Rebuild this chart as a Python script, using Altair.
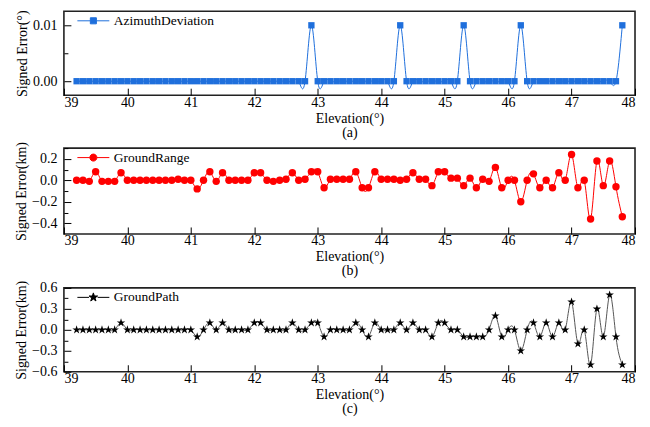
import altair as alt
import pandas as pd

FONT = "Liberation Serif"

elevation = [39.2, 39.3, 39.4, 39.5, 39.6, 39.7, 39.8, 39.9, 40.0, 40.1, 40.2, 40.3, 40.4, 40.5,
             40.6, 40.7, 40.8, 40.9, 41.0, 41.1, 41.2, 41.3, 41.4, 41.5, 41.6, 41.7, 41.8, 41.9,
             42.0, 42.1, 42.2, 42.3, 42.4, 42.5, 42.6, 42.7, 42.8, 42.9, 43.0, 43.1, 43.2, 43.3,
             43.4, 43.5, 43.6, 43.7, 43.8, 43.9, 44.0, 44.1, 44.2, 44.3, 44.4, 44.5, 44.6, 44.7,
             44.8, 44.9, 45.0, 45.1, 45.2, 45.3, 45.4, 45.5, 45.6, 45.7, 45.8, 45.9, 46.0, 46.1,
             46.2, 46.3, 46.4, 46.5, 46.6, 46.7, 46.8, 46.9, 47.0, 47.1, 47.2, 47.3, 47.4, 47.5,
             47.6, 47.7, 47.8]

azimuth_dev = [0, 0, 0, 0, 0, 0, 0, 0, 0, 0, 0, 0, 0, 0,
               0, 0, 0, 0, 0, 0, 0, 0, 0, 0, 0, 0, 0, 0,
               0, 0, 0, 0, 0, 0, 0, 0, 0, 0.01, 0, 0, 0, 0,
               0, 0, 0, 0, 0, 0, 0, 0, 0, 0.01, 0, 0, 0, 0,
               0, 0, 0, 0, 0, 0.01, 0, 0, 0, 0, 0, 0, 0, 0,
               0.01, 0, 0, 0, 0, 0, 0, 0, 0, 0, 0, 0, 0, 0,
               0, 0, 0.01]

ground_range = [0.0, 0.0, -0.01, 0.08, -0.01, -0.01, -0.01, 0.07, 0.0, 0.0, 0.0, 0.0, 0.0, 0.0,
                0.0, 0.0, 0.01, 0.0, 0.0, -0.08, 0.0, 0.08, -0.01, 0.07, 0.0, 0.0, 0.0, 0.0,
                0.07, 0.07, 0.0, -0.01, 0.0, 0.01, 0.07, 0.0, 0.01, 0.08, 0.08, -0.07, 0.01, 0.01,
                0.01, 0.01, 0.08, -0.07, -0.07, 0.08, 0.01, 0.01, 0.01, 0.0, 0.01, 0.07, 0.01, 0.01,
                -0.05, 0.08, 0.08, 0.02, 0.02, -0.05, 0.02, -0.07, 0.01, -0.01, 0.12, -0.07, 0.0, 0.0,
                -0.2, 0.0, 0.06, -0.07, 0.0, -0.07, 0.07, 0.0, 0.24, -0.07, 0.0, -0.36, 0.18, -0.05,
                0.18, -0.06, -0.34]

ground_path = [0, 0, 0, 0, 0, 0, 0, 0.1, 0, 0, 0, 0, 0, 0,
               0, 0, 0, 0, 0, -0.1, 0, 0.1, 0, 0.1, 0, 0, 0, 0,
               0.1, 0.1, 0, 0, 0, 0, 0.1, 0, 0, 0.1, 0.1, -0.1, 0, 0,
               0, 0, 0.1, 0, -0.1, 0.1, 0, 0, 0, 0.1, 0, 0.1, 0, 0,
               -0.1, 0.1, 0.1, 0, 0, -0.1, -0.1, -0.1, -0.1, 0, 0.2, -0.1, 0, 0,
               -0.3, 0, 0.1, -0.1, 0.1, -0.1, 0.1, 0, 0.4, -0.2, 0, -0.5, 0.3, -0.1,
               0.5, -0.1, -0.5]

x_ticks = [39, 39.5, 40, 40.5, 41, 41.5, 42, 42.5, 43, 43.5, 44, 44.5, 45, 45.5,
           46, 46.5, 47, 47.5, 48]

STAR = ("M0,-1L0.2245,-0.309L0.9511,-0.309L0.3633,0.118L0.5878,0.809L0,0.382"
        "L-0.5878,0.809L-0.3633,0.118L-0.9511,-0.309L-0.2245,-0.309Z")
# legend symbols: a line sample from -1 to 3 with the marker centred at x = 1
LEG_SQUARE = "M-1,0H0.62M1.38,0H3M0.62,-0.38H1.38V0.38H0.62Z"
LEG_CIRCLE = "M-1,0H0.56M1.44,0H3M1.44,0A0.44,0.44,0,1,1,0.56,0A0.44,0.44,0,1,1,1.44,0Z"
LEG_STAR = ("M-1,0H0.46M1.54,0H3M1,-0.56L1.1258,-0.173L1.5326,-0.173L1.2034,0.066"
            "L1.3292,0.453L1,0.214L0.6708,0.453L0.7966,0.066L0.4674,-0.173L0.8742,-0.173Z")


def panel(values, name, color, line_color, shape, leg_shape, size, ydomain, yvalues,
          minor_test, yfmt, ytitle, caption, height):
    df = pd.DataFrame({"elevation": elevation, "value": values, "series": name})
    x = alt.X(
        "elevation:Q",
        scale=alt.Scale(domain=[39, 48], nice=False, zero=False),
        axis=alt.Axis(
            values=x_ticks, format="d",
            labelExpr="datum.value % 1 === 0 ? datum.label : ''",
            tickSize={"condition": {"test": "datum.value % 1 !== 0", "value": -4}, "value": -7},
            title=["Elevation(°)", caption], labelPadding=7, titlePadding=2,
            labelFont=FONT, labelFontSize=14, titleFont=FONT, titleFontSize=14,
        ),
    )
    y = alt.Y(
        "value:Q",
        scale=alt.Scale(domain=ydomain, nice=False, zero=False),
        axis=alt.Axis(
            values=yvalues, format=yfmt,
            labelExpr=f"({minor_test}) ? '' : datum.label",
            tickSize={"condition": {"test": minor_test, "value": -4}, "value": -7},
            title=ytitle, labelPadding=14, titlePadding=3,
            labelFont=FONT, labelFontSize=14, titleFont=FONT, titleFontSize=14,
        ),
    )
    base = alt.Chart(df).encode(x=x, y=y)
    line = base.mark_line(interpolate="natural", color=line_color, strokeWidth=1)
    pts = base.mark_point(shape=shape, filled=True, size=size, opacity=1).encode(
        color=alt.Color(
            "series:N",
            scale=alt.Scale(domain=[name], range=[color]),
            legend=alt.Legend(
                title=None, orient="none", legendX=13, legendY=1, padding=0,
                symbolType=leg_shape, symbolSize=256, symbolStrokeColor=color,
                symbolFillColor=color, symbolStrokeWidth=1, labelOffset=20,
                labelFont=FONT, labelFontSize=13.5, labelColor="black",
            ),
        )
    )
    return alt.layer(line, pts).properties(width=572, height=height)


pa = panel(azimuth_dev, "AzimuthDeviation", "#1f6fdc", "#1f6fdc", "square", LEG_SQUARE, 40,
           [-0.0025, 0.0125], [0, 0.005, 0.01], "round(datum.value*1000) % 10 !== 0", ".2f",
           "Signed Error(°)", "(a)", 84)
pb = panel(ground_range, "GroundRange", "#ff0000", "#ff0000", "circle", LEG_CIRCLE, 55,
           [-0.5, 0.3], [-0.4, -0.3, -0.2, -0.1, 0, 0.1, 0.2, 0.3],
           "abs(round(datum.value*10)) % 2 !== 0", ".1f", "Signed Error(km)", "(b)", 86)
pc = panel(ground_path, "GroundPath", "#000000", "#555555", STAR, LEG_STAR, 80,
           [-0.6, 0.6], [-0.6, -0.45, -0.3, -0.15, 0, 0.15, 0.3, 0.45, 0.6],
           "abs(round(datum.value/0.15)) % 2 !== 0", ".1f", "Signed Error(km)", "(c)", 84)

chart = (
    alt.vconcat(pa, pb, pc, spacing=0)
    .resolve_scale(color="independent")
    .resolve_legend(color="independent")
    .properties(padding={"left": 5, "top": 0, "right": 5, "bottom": 0})
    .configure_view(stroke="#222222", strokeWidth=1.6)
    .configure_axis(
        domain=False, grid=False, tickColor="black", tickWidth=1,
        labelFont=FONT, labelFontSize=14, labelColor="black",
        titleFont=FONT, titleFontSize=14, titleFontWeight="normal", titleColor="black",
        titleLineHeight=14,
    )
)

chart.save("out.html", embed_options={"renderer": "svg", "actions": False})
